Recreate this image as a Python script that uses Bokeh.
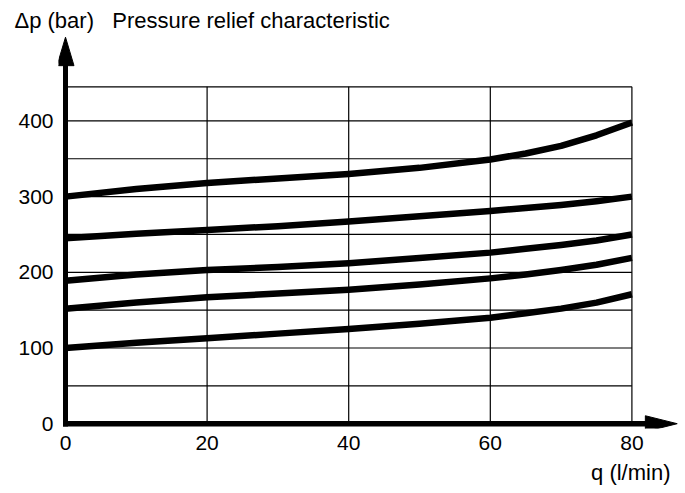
from bokeh.plotting import figure
from bokeh.models import Range1d, FixedTicker, Title
from bokeh.embed import file_html
from bokeh.resources import INLINE

# ---- data ----
q = [0, 10, 20, 30, 40, 50, 60, 65, 70, 75, 80]
dp_a = [300, 310, 318, 324, 330, 338, 349, 357, 367, 381, 398]
dp_b = [245, 251, 256, 261, 267, 274, 281, 285, 289, 294, 300]
dp_c = [189, 197, 203, 207, 212, 219, 226, 231, 236, 242, 250]
dp_d = [152, 160, 167, 172, 177, 184, 192, 197, 203, 210, 219]
dp_e = [100, 107, 113, 119, 125, 132, 140, 146, 152, 160, 171]
curves = [dp_a, dp_b, dp_c, dp_d, dp_e]

x_ticks = [0, 20, 40, 60, 80]
y_ticks = [0, 100, 200, 300, 400]
x_grid = [20, 40, 60, 80]
y_grid = [50, 100, 150, 200, 250, 300, 350, 400, 445]
x_max = 80
y_top = 445

FONT = "Liberation Sans"

p = figure(width=685, height=493, output_backend="svg", toolbar_location=None,
           x_range=Range1d(-0.989, 87.57), y_range=Range1d(-6.34, 515.5),
           min_border_left=58, min_border_right=0, min_border_top=33,
           min_border_bottom=65)
p.outline_line_color = None
p.xgrid.grid_line_color = None
p.ygrid.grid_line_color = None

for ax, ticks in ((p.xaxis[0], x_ticks), (p.yaxis[0], y_ticks)):
    ax.ticker = FixedTicker(ticks=ticks)
    ax.axis_line_color = None
    ax.major_tick_line_color = None
    ax.minor_tick_line_color = None
    ax.major_tick_out = 0
    ax.major_tick_in = 0
    ax.minor_tick_out = 0
    ax.major_label_text_font = FONT
    ax.major_label_text_font_size = "21px"
    ax.major_label_text_color = "black"
p.xaxis.major_label_standoff = 7
p.yaxis.major_label_standoff = 5

# titles (axis names)
p.title.text = "\u0394p (bar)\u00a0\u00a0\u00a0Pressure relief characteristic"
p.title.align = "left"
p.title.offset = -44
p.title.text_font = FONT
p.title.text_font_size = "22px"
p.title.text_font_style = "normal"
p.title.text_color = "black"
p.title.standoff = 1

p.add_layout(Title(text="q (l/min)", align="right", offset=15, text_font=FONT,
                   text_font_size="22px", text_font_style="normal",
                   text_color="black", standoff=11), "below")

# grid
p.segment(x0=[0] * len(y_grid), y0=y_grid, x1=[x_max] * len(y_grid), y1=y_grid,
          line_color="black", line_width=1.2)
p.segment(x0=x_grid, y0=[0] * len(x_grid), x1=x_grid, y1=[y_top] * len(x_grid),
          line_color="black", line_width=1.2)

# curves
for c in curves:
    p.line(q, c, line_color="black", line_width=6.5, line_join="round")

# axes with arrows
p.segment(x0=[0], y0=[-3.6], x1=[0], y1=[474], line_color="black", line_width=5)
p.segment(x0=[-0.35], y0=[0], x1=[82], y1=[0], line_color="black", line_width=5.5)
p.patch([-1.2, 1.2, 0], [473, 473, 510.6], color="black")
p.patch([81.9, 81.9, 86.4], [-10.5, 10.5, 0], color="black")

open("out.html", "w").write(file_html(p, INLINE))
